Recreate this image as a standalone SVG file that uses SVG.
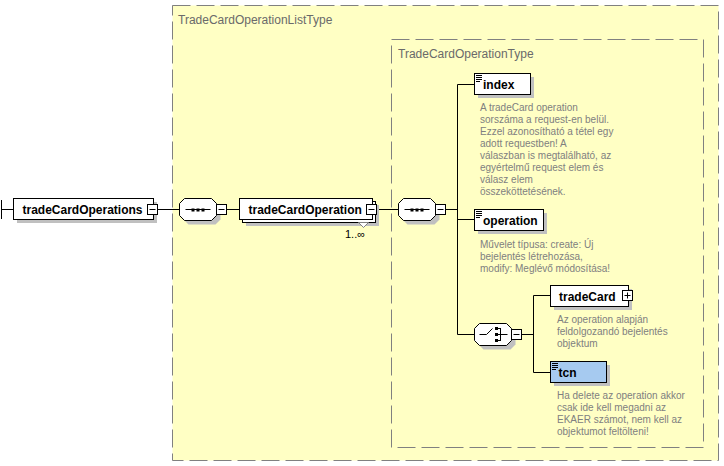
<svg xmlns="http://www.w3.org/2000/svg" width="724" height="466" viewBox="0 0 724 466">
<style>
.typebox{fill:#FFFFC4;stroke:#808080;stroke-width:1;stroke-dasharray:18 6}
.typetitle{font-family:"Liberation Sans",Arial,sans-serif;font-size:12px;fill:#6a6a6a}
.box{fill:#fff;stroke:#000;stroke-width:1}
.opt{fill:#A6CAF0;stroke:#000;stroke-width:1}
.shadow{fill:#C0C0C0;stroke:none}
.label{font-family:"Liberation Sans",Arial,sans-serif;font-size:12px;font-weight:bold;fill:#000}
.desc{font-family:"Liberation Sans",Arial,sans-serif;font-size:10px;fill:#808080}
.conn{stroke:#000;stroke-width:1;fill:none}
.icon{stroke:#000;stroke-width:1}
.card{font-family:"Liberation Sans",Arial,sans-serif;font-size:11px;fill:#000}
</style>
<defs>
<g id="minus">
<rect x="0" y="0" width="10" height="10" fill="#fff" stroke="#000"/>
<line x1="2" y1="5" x2="8" y2="5" stroke="#000"/>
</g>
<g id="octa">
<polygon points="9,4 36,4 41,9 41,21 36,26 9,26 4,21 4,9" class="shadow"/>
<polygon points="5,0 32,0 37,5 37,17 32,22 5,22 0,17 0,5" fill="#fff" stroke="#000"/>
</g>
<g id="seq">
<use href="#octa"/>
<line x1="6" y1="11" x2="31" y2="11" stroke="#000"/>
<rect x="12" y="10" width="3" height="3" fill="#000"/>
<rect x="17" y="10" width="3" height="3" fill="#000"/>
<rect x="22" y="10" width="3" height="3" fill="#000"/>
<use href="#minus" x="37" y="6"/>
</g>
<g id="doc">
<line x1="1.5" y1="2" x2="7.5" y2="2" class="icon"/>
<line x1="1.5" y1="4" x2="7.5" y2="4" class="icon"/>
<line x1="1.5" y1="6" x2="7.5" y2="6" class="icon"/>
<line x1="1.5" y1="8" x2="5.5" y2="8" class="icon"/>
</g>
</defs>

<g id="TradeCardOperationListType">
<rect x="172.5" y="5.5" width="546" height="455" class="typebox"/>
<text x="178" y="24" class="typetitle">TradeCardOperationListType</text>
</g>
<g id="TradeCardOperationType">
<rect x="391.5" y="39.5" width="312" height="408" class="typebox"/>
<text x="398" y="58" class="typetitle">TradeCardOperationType</text>
</g>

<g id="connectors">
<line x1="1.5" y1="200" x2="1.5" y2="219" class="conn"/>
<line x1="1.5" y1="209.5" x2="13.5" y2="209.5" class="conn"/>
<line x1="157.5" y1="209.5" x2="179.5" y2="209.5" class="conn"/>
<line x1="226.5" y1="209.5" x2="239.5" y2="209.5" class="conn"/>
<line x1="376.5" y1="209.5" x2="398.5" y2="209.5" class="conn"/>
<line x1="445.5" y1="209.5" x2="457.5" y2="209.5" class="conn"/>
<line x1="457.5" y1="84.5" x2="457.5" y2="334.5" class="conn"/>
<line x1="457.5" y1="84.5" x2="474.5" y2="84.5" class="conn"/>
<line x1="457.5" y1="219.5" x2="474.5" y2="219.5" class="conn"/>
<line x1="457.5" y1="334.5" x2="474.5" y2="334.5" class="conn"/>
<line x1="521.5" y1="334.5" x2="533.5" y2="334.5" class="conn"/>
<line x1="533.5" y1="295.5" x2="533.5" y2="372.5" class="conn"/>
<line x1="533.5" y1="295.5" x2="550.5" y2="295.5" class="conn"/>
<line x1="533.5" y1="372.5" x2="550.5" y2="372.5" class="conn"/>
</g>

<g id="tradeCardOperations">
<rect x="17" y="202" width="140" height="21" class="shadow"/>
<rect x="13.5" y="198.5" width="140" height="21" class="box"/>
<text x="22.5" y="213.5" class="label">tradeCardOperations</text>
<use href="#minus" x="147.5" y="204.5"/>
</g>

<g id="sequence1">
<use href="#seq" x="179.5" y="198.5"/>
</g>

<g id="tradeCardOperation">
<rect x="246" y="205" width="133" height="21" class="shadow"/>
<rect x="242.5" y="201.5" width="133" height="21" class="box"/>
<rect x="239.5" y="198.5" width="133" height="21" class="box"/>
<text x="248.5" y="213.5" class="label">tradeCardOperation</text>
<use href="#minus" x="366.5" y="204.5"/>
<polygon points="358.5,222.5 368.5,222.5 363.5,227.5" fill="#fff" stroke="#808080"/>
<text x="345" y="238" class="card">1..∞</text>
</g>

<g id="sequence2">
<use href="#seq" x="398.5" y="198.5"/>
</g>

<g id="index">
<rect x="478" y="77" width="56" height="21" class="shadow"/>
<rect x="474.5" y="73.5" width="56" height="21" class="box"/>
<use href="#doc" x="474.5" y="73.5"/>
<text x="483" y="89" class="label">index</text>
<text class="desc">
<tspan x="480" y="111">A tradeCard operation</tspan>
<tspan x="480" y="123">sorszáma a request-en belül.</tspan>
<tspan x="480" y="135">Ezzel azonosítható a tétel egy</tspan>
<tspan x="480" y="147">adott requestben! A</tspan>
<tspan x="480" y="159">válaszban is megtalálható, az</tspan>
<tspan x="480" y="171">egyértelmű request elem és</tspan>
<tspan x="480" y="183">válasz elem</tspan>
<tspan x="480" y="195">összeköttetésének.</tspan>
</text>
</g>

<g id="operation">
<rect x="478" y="213" width="69" height="21" class="shadow"/>
<rect x="474.5" y="209.5" width="69" height="21" class="box"/>
<use href="#doc" x="474.5" y="209.5"/>
<text x="483" y="224.5" class="label">operation</text>
<text class="desc">
<tspan x="480" y="248">Művelet típusa: create: Új</tspan>
<tspan x="480" y="260">bejelentés létrehozása,</tspan>
<tspan x="480" y="272">modify: Meglévő módosítása!</tspan>
</text>
</g>

<g id="choice">
<use href="#octa" x="474.5" y="323.5"/>
<line x1="479.5" y1="334.5" x2="486.5" y2="334.5" stroke="#000"/>
<line x1="486.5" y1="334.5" x2="492.5" y2="328.5" stroke="#000"/>
<rect x="495" y="327" width="3" height="3" fill="#000"/>
<rect x="495" y="333" width="3" height="3" fill="#000"/>
<rect x="495" y="339" width="3" height="3" fill="#000"/>
<line x1="497" y1="328.5" x2="500.5" y2="328.5" stroke="#000"/>
<line x1="497" y1="340.5" x2="500.5" y2="340.5" stroke="#000"/>
<line x1="500.5" y1="328" x2="500.5" y2="341" stroke="#000"/>
<line x1="497" y1="334.5" x2="507.5" y2="334.5" stroke="#000"/>
<use href="#minus" x="511.5" y="329.5"/>
</g>

<g id="tradeCard">
<rect x="554" y="289" width="78" height="21" class="shadow"/>
<rect x="550.5" y="285.5" width="78" height="21" class="box"/>
<text x="559" y="300.5" class="label">tradeCard</text>
<rect x="622.5" y="290.5" width="10" height="10" fill="#fff" stroke="#000"/>
<line x1="624.5" y1="295.5" x2="630.5" y2="295.5" stroke="#000"/>
<line x1="627.5" y1="292.5" x2="627.5" y2="298.5" stroke="#000"/>
<text class="desc">
<tspan x="557" y="323">Az operation alapján</tspan>
<tspan x="557" y="335">feldolgozandó bejelentés</tspan>
<tspan x="557" y="347">objektum</tspan>
</text>
</g>

<g id="tcn">
<rect x="554" y="365" width="56" height="21" class="shadow"/>
<rect x="550.5" y="361.5" width="56" height="21" class="opt"/>
<use href="#doc" x="550.5" y="361.5"/>
<text x="558.5" y="377" class="label">tcn</text>
<text class="desc">
<tspan x="557" y="399">Ha delete az operation akkor</tspan>
<tspan x="557" y="411">csak ide kell megadni az</tspan>
<tspan x="557" y="423">EKAER számot, nem kell az</tspan>
<tspan x="557" y="435">objektumot feltölteni!</tspan>
</text>
</g>
</svg>
